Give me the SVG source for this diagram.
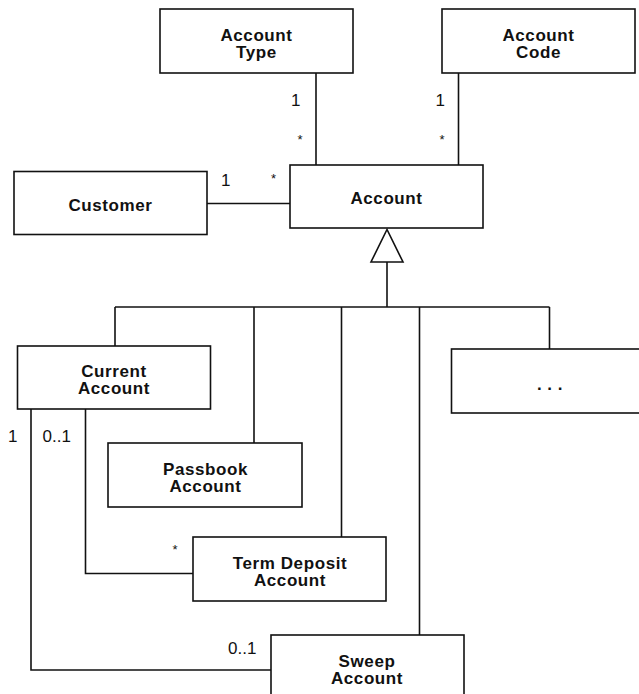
<svg xmlns="http://www.w3.org/2000/svg" width="639" height="694" viewBox="0 0 639 694">
  <style>
    .box { fill: #fff; stroke: #111; stroke-width: 1.6; }
    .name { font-family: "Liberation Sans", Arial, sans-serif; font-weight: bold; font-size: 17px; letter-spacing: 0.6px; fill: #111; text-anchor: middle; }
    .mult { font-family: "Liberation Sans", Arial, sans-serif; font-size: 17px; fill: #111; }
    .star { font-family: "Liberation Sans", Arial, sans-serif; font-size: 13px; fill: #111; }
    .conn { fill: none; stroke: #111; stroke-width: 1.6; }
  </style>
  <rect width="639" height="694" fill="#fff"/>

  <!-- connectors -->
  <g id="connectors">
    <!-- associations -->
    <line class="conn" x1="316" y1="73" x2="316" y2="165"/>
    <line class="conn" x1="458.5" y1="73" x2="458.5" y2="165"/>
    <line class="conn" x1="207" y1="203.5" x2="290" y2="203.5"/>
    <polyline class="conn" points="31,409 31,670 271,670"/>
    <polyline class="conn" points="85.5,409 85.5,573.5 193,573.5"/>
    <!-- generalization tree -->
    <polygon class="conn" points="387,229.5 371,262 403,262"/>
    <line class="conn" x1="387" y1="262" x2="387" y2="307"/>
    <line class="conn" x1="115" y1="307" x2="549.5" y2="307"/>
    <line class="conn" x1="115" y1="307" x2="115" y2="346"/>
    <line class="conn" x1="254" y1="307" x2="254" y2="443"/>
    <line class="conn" x1="341.5" y1="307" x2="341.5" y2="537"/>
    <line class="conn" x1="419.5" y1="307" x2="419.5" y2="635"/>
    <line class="conn" x1="549.5" y1="307" x2="549.5" y2="349"/>
    <!-- multiplicities -->
    <text class="mult" x="291" y="106">1</text>
    <text class="star" x="297.5" y="144">*</text>
    <text class="mult" x="435.5" y="106">1</text>
    <text class="star" x="439.5" y="144">*</text>
    <text class="mult" x="221" y="186">1</text>
    <text class="star" x="271" y="182.5">*</text>
    <text class="mult" x="8" y="442">1</text>
    <text class="mult" x="42.5" y="442">0..1</text>
    <text class="star" x="172.5" y="553.5">*</text>
    <text class="mult" x="228" y="653.5">0..1</text>
  </g>

  <g id="account-type">
    <rect class="box" x="160" y="9" width="193" height="64"/>
    <text class="name" x="256.5" y="41">Account</text>
    <text class="name" x="256.5" y="58.3">Type</text>
  </g>
  <g id="account-code">
    <rect class="box" x="442" y="9" width="193" height="64"/>
    <text class="name" x="538.5" y="41">Account</text>
    <text class="name" x="538.5" y="58.3">Code</text>
  </g>
  <g id="customer">
    <rect class="box" x="14" y="171.5" width="193" height="63"/>
    <text class="name" x="110.5" y="211">Customer</text>
  </g>
  <g id="account">
    <rect class="box" x="290" y="165" width="193" height="63"/>
    <text class="name" x="386.5" y="204.3">Account</text>
  </g>
  <g id="current-account">
    <rect class="box" x="17.5" y="346" width="193" height="63"/>
    <text class="name" x="114" y="377">Current</text>
    <text class="name" x="114" y="394.3">Account</text>
  </g>
  <g id="other-accounts">
    <rect class="box" x="451.5" y="349" width="193" height="64"/>
    <text class="name" x="537" y="390" style="letter-spacing: 5.6px; text-anchor: start">...</text>
  </g>
  <g id="passbook-account">
    <rect class="box" x="108" y="443" width="194" height="64"/>
    <text class="name" x="205.5" y="475">Passbook</text>
    <text class="name" x="205.5" y="492.3">Account</text>
  </g>
  <g id="term-deposit-account">
    <rect class="box" x="193" y="537" width="193" height="64"/>
    <text class="name" x="290" y="568.5">Term Deposit</text>
    <text class="name" x="290" y="585.8">Account</text>
  </g>
  <g id="sweep-account">
    <rect class="box" x="271" y="635" width="193" height="64"/>
    <text class="name" x="367" y="666.7">Sweep</text>
    <text class="name" x="367" y="684">Account</text>
  </g>
</svg>
